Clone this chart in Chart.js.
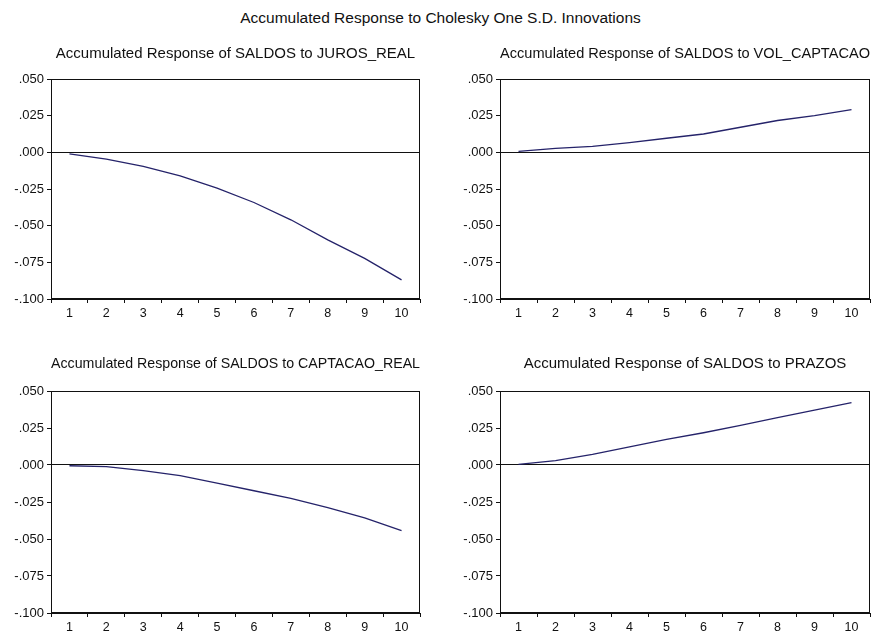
<!DOCTYPE html>
<html>
<head>
<meta charset="utf-8">
<title>Accumulated Response to Cholesky One S.D. Innovations</title>
<script src="https://cdn.jsdelivr.net/npm/chart.js@4.4.0/dist/chart.umd.min.js"></script>
<style>
    body { margin: 0; background: #fff; width: 881px; height: 632px; position: relative; overflow: hidden; font-family: "Liberation Sans", Arial, sans-serif; }
    #main-title { position: absolute; left: 0; top: 9px; width: 881px; text-align: center; font-size: 15.5px; color: #111; }
    canvas { position: absolute; }
</style>
</head>
<body>
<div id="main-title">Accumulated Response to Cholesky One S.D. Innovations</div>
<canvas id="c1" width="440" height="285" style="left:0;top:40px"></canvas>
<canvas id="c2" width="441" height="285" style="left:440px;top:40px"></canvas>
<canvas id="c3" width="440" height="282" style="left:0;top:350px"></canvas>
<canvas id="c4" width="441" height="282" style="left:440px;top:350px"></canvas>
<script>
var periods = ['1', '2', '3', '4', '5', '6', '7', '8', '9', '10'];
var yTickLabels = ['-.100', '-.075', '-.050', '-.025', '.000', '.025', '.050'];

var jurosReal = [-0.0011, -0.0046, -0.0096, -0.0160, -0.0244, -0.0342, -0.0460, -0.0597, -0.0723, -0.0870];
var volCaptacao = [0.0007, 0.0027, 0.0041, 0.0066, 0.0096, 0.0125, 0.0171, 0.0217, 0.0251, 0.0291];
var captacaoReal = [-0.0005, -0.0011, -0.0038, -0.0072, -0.0122, -0.0174, -0.0225, -0.0288, -0.0357, -0.0444];
var prazos = [0.0004, 0.0029, 0.0072, 0.0122, 0.0173, 0.0218, 0.0268, 0.0320, 0.0371, 0.0422];

var fontFamily = '"Liberation Sans", Arial, sans-serif';
var lineColor = '#25236a';

// box around the plot area, like EViews draws it
var framePlugin = {
    id: 'frame',
    afterDraw: function(chart) {
        var a = chart.chartArea;
        var ctx = chart.ctx;
        ctx.save();
        ctx.strokeStyle = '#111';
        ctx.lineWidth = 1;
        ctx.strokeRect(Math.round(a.left) + 0.5, Math.round(a.top) + 0.5,
            Math.round(a.right - a.left) - 1, Math.round(a.bottom - a.top) - 1);
        ctx.restore();
    }
};

function makeChart(id, title, values, yWidth, rightPad, bottomPad, titleBottom, xHeight) {
    new Chart(document.getElementById(id), {
        type: 'line',
        data: {
            labels: periods,
            datasets: [{
                data: values,
                borderColor: lineColor,
                borderWidth: 1.3,
                pointRadius: 0,
                tension: 0,
                fill: false
            }]
        },
        options: {
            responsive: false,
            animation: false,
            layout: { padding: { top: 0, right: rightPad, bottom: bottomPad, left: 0 } },
            plugins: {
                legend: { display: false },
                tooltip: { enabled: false },
                title: {
                    display: true,
                    text: title,
                    fullSize: false,
                    color: '#111',
                    font: { family: fontFamily, size: 15, weight: 'normal' },
                    padding: { top: 5, bottom: titleBottom }
                }
            },
            scales: {
                x: {
                    offset: true,
                    grid: { offset: true, drawOnChartArea: false, tickLength: 4, tickColor: '#111' },
                    border: { color: '#111' },
                    ticks: { padding: 3, color: '#111', font: { family: fontFamily, size: 12.5 }, maxRotation: 0, autoSkip: false },
                    afterFit: function(s) { s.height = xHeight; }
                },
                y: {
                    min: -0.1,
                    max: 0.05,
                    ticks: {
                        stepSize: 0.025,
                        padding: 3,
                        color: '#111',
                        font: { family: fontFamily, size: 13 },
                        callback: function(v, i) { return yTickLabels[i]; }
                    },
                    grid: {
                        color: function(c) { return c.tick && Math.abs(c.tick.value) < 1e-9 ? '#111' : 'rgba(0,0,0,0)'; },
                        tickColor: '#111',
                        tickLength: 4
                    },
                    border: { color: '#111' },
                    afterFit: function(s) { s.width = yWidth; }
                }
            }
        },
        plugins: [framePlugin]
    });
}

makeChart('c1', 'Accumulated Response of SALDOS to JUROS_REAL', jurosReal, 51, 20, 6, 16, 20);
makeChart('c2', 'Accumulated Response of SALDOS to VOL_CAPTACAO', volCaptacao, 60, 11, 6, 16, 20);
makeChart('c3', 'Accumulated Response of SALDOS to CAPTACAO_REAL', captacaoReal, 51, 20, 0, 18, 19);
makeChart('c4', 'Accumulated Response of SALDOS to PRAZOS', prazos, 60, 11, 0, 18, 19);
</script>
</body>
</html>
